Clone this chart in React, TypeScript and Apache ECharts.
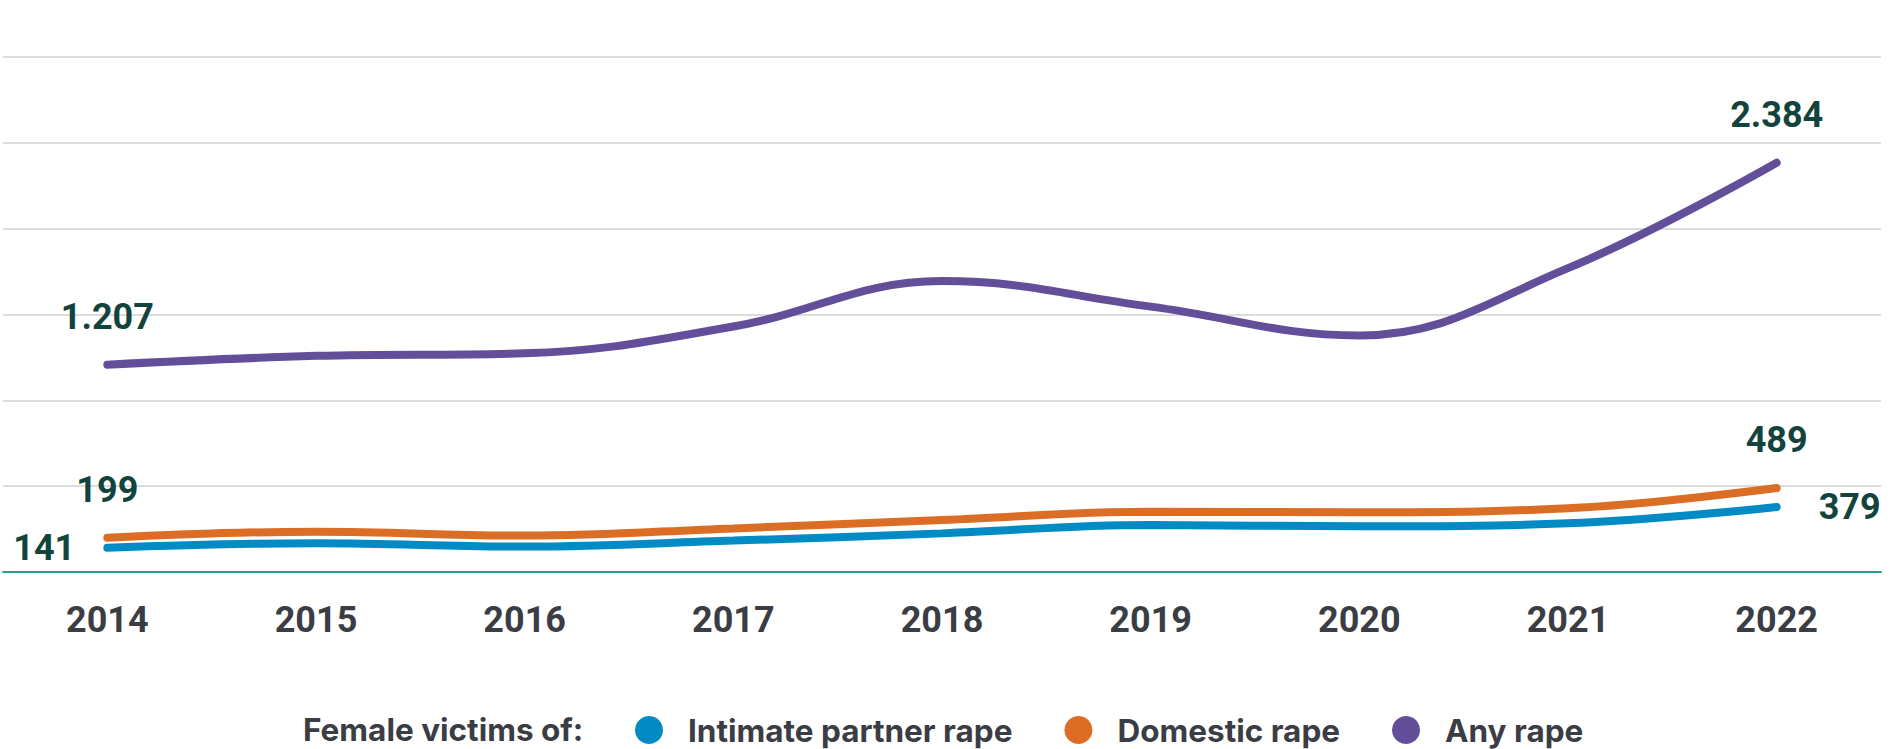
import React, { useEffect, useRef } from "react";
import * as echarts from "echarts";

const years = ["2014", "2015", "2016", "2017", "2018", "2019", "2020", "2021", "2022"];
const intimatePartner = [141, 167, 148, 183, 225, 274, 266, 284, 379];
const domestic = [199, 235, 212, 254, 303, 351, 348, 371, 489];
const anyRape = [1207, 1259, 1274, 1430, 1695, 1546, 1378, 1770, 2384];
const seriesNames = ["Intimate partner rape", "Domestic rape", "Any rape"];
const legendTitle = "Female victims of:";

const fmt = (v: number) => String(v).replace(/\B(?=(\d{3})+(?!\d))/g, ".");

const FONT = "Roboto, 'Noto Sans', sans-serif";
const LEGEND_FONT = "Inter, Roboto, sans-serif";
const labelStyle = {
  show: true,
  color: "#12433d",
  fontFamily: FONT,
  fontWeight: "bold" as const,
  fontSize: 36,
  formatter: (p: any) => fmt(p.value),
};

function withEndLabels(values: number[], firstPos: string, lastPos: string, firstDist: number, lastDist: number) {
  return values.map((v, i) => {
    if (i === 0) return { value: v, label: { ...labelStyle, position: firstPos, distance: firstDist } };
    if (i === values.length - 1) return { value: v, label: { ...labelStyle, position: lastPos, distance: lastDist } };
    return { value: v, label: { show: false } };
  });
}

export default function App() {
  const ref = useRef<HTMLDivElement>(null);
  useEffect(() => {
    if (!ref.current) return;
    const chart = echarts.init(ref.current, undefined, { renderer: "svg" });
    const colors = ["#008bc4", "#dc6d25", "#634f99"];
    const mk = (name: string, data: any[], color: string) => ({
      name,
      type: "line",
      data,
      smooth: 0.4,
      symbol: "circle",
      symbolSize: 0.1,
      showSymbol: true,
      lineStyle: { color, width: 8, cap: "round" },
      itemStyle: { color },
      emphasis: { disabled: true },
      z: 3,
    });
    chart.setOption({
      animation: false,
      grid: { left: 3, right: 17, top: 57, bottom: 177, containLabel: false },
      xAxis: {
        type: "category",
        data: years,
        boundaryGap: true,
        axisLine: { show: true, lineStyle: { color: "#2f9c92", width: 2 } },
        axisTick: { show: false },
        axisLabel: {
          color: "#3b3d44",
          fontFamily: FONT,
          fontWeight: "bold",
          fontSize: 36,
          margin: 30,
        },
        splitLine: { show: false },
        z: 4,
      },
      yAxis: {
        type: "value",
        min: 0,
        max: 3000,
        interval: 500,
        axisLabel: { show: false },
        axisLine: { show: false },
        axisTick: { show: false },
        splitLine: { show: true, lineStyle: { color: "#dcdcdc", width: 2 } },
      },
      legend: {
        left: 635,
        top: 713,
        padding: 0,
        icon: "circle",
        itemWidth: 28,
        itemHeight: 28,
        itemGap: 52,
        data: seriesNames,
        textStyle: {
          color: "#3b3d44",
          fontFamily: LEGEND_FONT,
          fontWeight: "bold",
          fontSize: 31.5,
          lineHeight: 34,
          padding: [0, 0, 0, 20],
        },
      },
      graphic: [
        {
          type: "text",
          left: 303,
          top: 712,
          style: {
            text: legendTitle,
            fill: "#3b3d44",
            font: `bold 31.5px ${LEGEND_FONT}`,
            lineHeight: 34,
          },
        },
      ],
      series: [
        mk(seriesNames[0], withEndLabels(intimatePartner, "left", "right", 32, 42), colors[0]),
        mk(seriesNames[1], withEndLabels(domestic, "top", "top", 30, 30), colors[1]),
        mk(seriesNames[2], withEndLabels(anyRape, "top", "top", 30, 30), colors[2]),
      ],
    });
    return () => chart.dispose();
  }, []);
  return (
    <div
      ref={ref}
      style={{ position: "fixed", left: 0, top: 0, width: 1898, height: 749, background: "#ffffff" }}
    />
  );
}
